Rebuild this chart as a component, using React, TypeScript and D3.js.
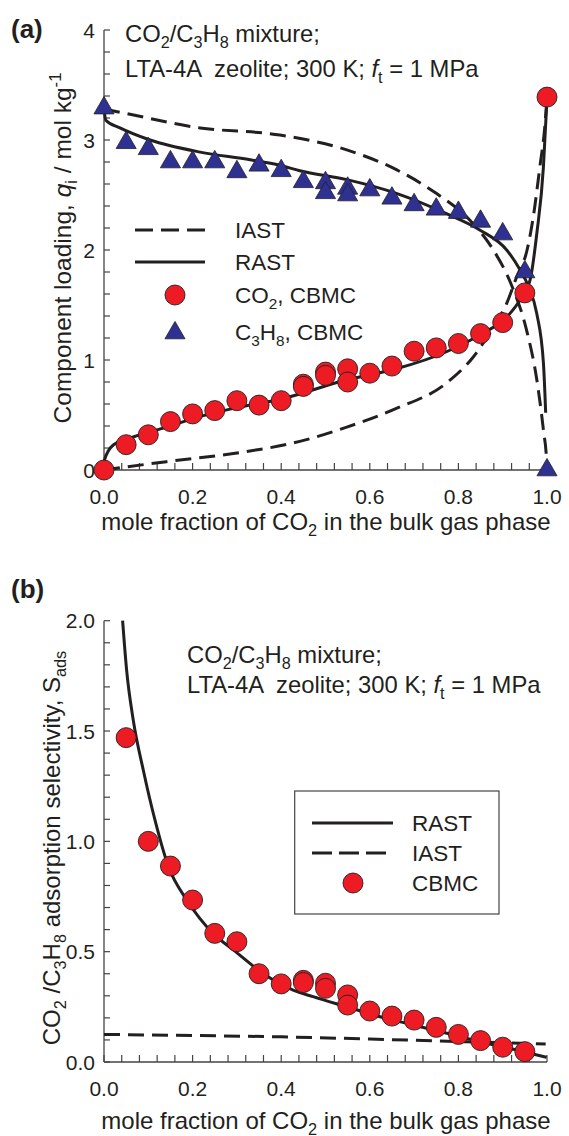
import React from "react";
import * as d3 from "d3";

// ---------- Panel (a) data ----------
const co2CbmcX = [0, 0.05, 0.1, 0.15, 0.2, 0.25, 0.3, 0.35, 0.4, 0.45, 0.45, 0.5, 0.5, 0.55, 0.55, 0.6, 0.65, 0.7, 0.75, 0.8, 0.85, 0.9, 0.95, 1.0];
const co2CbmcY = [0, 0.23, 0.32, 0.44, 0.51, 0.54, 0.63, 0.59, 0.63, 0.78, 0.76, 0.89, 0.86, 0.92, 0.8, 0.88, 0.945, 1.08, 1.11, 1.15, 1.24, 1.34, 1.61, 3.39];

const c3h8CbmcX = [0, 0.05, 0.1, 0.15, 0.2, 0.25, 0.3, 0.35, 0.4, 0.45, 0.5, 0.5, 0.55, 0.55, 0.6, 0.65, 0.7, 0.75, 0.8, 0.85, 0.9, 0.95, 1.0];
const c3h8CbmcY = [3.29, 2.975, 2.92, 2.8, 2.8, 2.8, 2.71, 2.77, 2.72, 2.62, 2.61, 2.52, 2.56, 2.5, 2.545, 2.47, 2.41, 2.37, 2.34, 2.26, 2.145, 1.8, 0];

const rastC3h8X = [0, 0.004, 0.036, 0.104, 0.217, 0.33, 0.397, 0.442, 0.548, 0.66, 0.773, 0.849, 0.909, 0.939, 0.958, 0.977, 0.992, 0.997];
const rastC3h8Y = [3.29, 3.18, 3.11, 3.0, 2.89, 2.82, 2.77, 2.72, 2.64, 2.515, 2.33, 2.18, 2.0, 1.82, 1.67, 1.42, 0.97, 0.52];

const rastCo2X = [0, 0.001, 0.021, 0.066, 0.141, 0.216, 0.292, 0.405, 0.548, 0.66, 0.773, 0.849, 0.909, 0.939, 0.962, 0.977, 0.992, 0.999, 1.0];
const rastCo2Y = [0, 0.09, 0.227, 0.3, 0.39, 0.485, 0.56, 0.65, 0.82, 0.92, 1.075, 1.23, 1.39, 1.545, 1.73, 2.15, 2.76, 3.3, 3.39];

const iastC3h8X = [0, 0.0135, 0.217, 0.397, 0.548, 0.66, 0.75, 0.826, 0.879, 0.92, 0.954, 0.977, 0.992, 0.999, 1.0];
const iastC3h8Y = [3.28, 3.27, 3.11, 3.045, 2.91, 2.73, 2.515, 2.27, 2.0, 1.68, 1.27, 0.82, 0.36, 0.09, 0];

const iastCo2X = [0, 0.141, 0.292, 0.442, 0.548, 0.66, 0.773, 0.834, 0.879, 0.909, 0.931, 0.955, 0.969, 0.984, 0.995, 1.0];
const iastCo2Y = [0, 0.076, 0.15, 0.26, 0.39, 0.56, 0.79, 1.03, 1.3, 1.515, 1.75, 2.0, 2.3, 2.76, 3.12, 3.39];

const yTicksA = [0, 1, 2, 3, 4];
const xTicks = [0, 0.2, 0.4, 0.6, 0.8, 1.0];

// ---------- Panel (b) data ----------
const selCbmcX = [0.05, 0.1, 0.15, 0.2, 0.25, 0.3, 0.35, 0.4, 0.45, 0.45, 0.5, 0.5, 0.55, 0.55, 0.6, 0.65, 0.7, 0.75, 0.8, 0.85, 0.9, 0.95];
const selCbmcY = [1.47, 1.0, 0.888, 0.734, 0.583, 0.545, 0.4, 0.354, 0.37, 0.36, 0.357, 0.334, 0.304, 0.258, 0.231, 0.208, 0.19, 0.157, 0.125, 0.097, 0.067, 0.047];

const selRastX = [0.042, 0.051, 0.066, 0.089, 0.115, 0.145, 0.187, 0.246, 0.292, 0.36, 0.427, 0.472, 0.548, 0.623, 0.698, 0.774, 0.849, 0.924, 0.999];
const selRastY = [2.0, 1.777, 1.55, 1.32, 1.097, 0.888, 0.734, 0.583, 0.508, 0.4, 0.326, 0.296, 0.25, 0.205, 0.168, 0.13, 0.092, 0.058, 0.021];

const selIastX = [0, 0.2, 0.4, 0.6, 0.8, 0.997];
const selIastY = [0.125, 0.12, 0.114, 0.104, 0.093, 0.082];

const yTicksB = [0, 0.5, 1.0, 1.5, 2.0];

// ---------- styles ----------
const FONT = "'Liberation Sans', Arial, Helvetica, sans-serif";
const INK = "#231f20";
const AXIS = "#444";
const RED = "#ed1c24";
const BLUE = "#2e3192";

type Part = { t: string; k?: "sub" | "sup"; i?: boolean };

function Rich(props: { x?: number; y?: number; size: number; parts: Part[]; anchor?: string; transform?: string; weight?: string }) {
  const { size, parts } = props;
  let off = 0;
  const kids = parts.map((p, idx) => {
    const target = p.k === "sub" ? size * 0.26 : p.k === "sup" ? -size * 0.42 : 0;
    const dy = target - off;
    off = target;
    return (
      <tspan key={idx} dy={dy} fontSize={p.k ? size * 0.68 : size} fontStyle={p.i ? "italic" : "normal"}>
        {p.t}
      </tspan>
    );
  });
  return (
    <text x={props.x} y={props.y} transform={props.transform} textAnchor={props.anchor || "start"} fontFamily={FONT} fontSize={size} fill={INK} fontWeight={props.weight || "normal"} style={{ whiteSpace: "pre" }}>
      {kids}
    </text>
  );
}

function zip(xs: number[], ys: number[]): [number, number][] {
  return xs.map((x, i) => [x, ys[i]]);
}

const W = 569;
const H = 1136;

export default function App() {
  const xA = d3.scaleLinear().domain([0, 1]).range([104, 547]);
  const yA = d3.scaleLinear().domain([0, 4]).range([470, 30]);
  const xB = d3.scaleLinear().domain([0, 1]).range([104, 547]);
  const yB = d3.scaleLinear().domain([0, 2]).range([1062, 620.7]);

  const lineA = d3.line<[number, number]>().x((d) => xA(d[0])).y((d) => yA(d[1])).curve(d3.curveMonotoneX);
  const lineB = d3.line<[number, number]>().x((d) => xB(d[0])).y((d) => yB(d[1])).curve(d3.curveMonotoneX);

  const tri = d3.symbol().type(d3.symbolTriangle).size(175)() as string;

  const xMinor = d3.range(0, 1.0001, 0.04);
  const yMinorA = d3.range(0, 4.0001, 0.2);
  const yMinorB = d3.range(0, 2.0001, 0.1);

  const TL = 7;
  const tickFs = 21;
  const dash = "16 8";
  const annFs = 23.8;
  const legFs = 22.5;

  const axes = (
    xs: d3.ScaleLinear<number, number>,
    ys: d3.ScaleLinear<number, number>,
    yMinor: number[],
    yTicks: number[],
    yFmt: (v: number) => string,
    key: string
  ) => {
    const [y0, y1] = ys.range();
    const [x0, x1] = xs.range();
    return (
      <g key={key}>
        <line x1={x0} x2={x0} y1={y0} y2={y1} stroke={AXIS} strokeWidth={1.3} />
        <line x1={x0} x2={x1} y1={y0} y2={y0} stroke={AXIS} strokeWidth={1.3} />
        {xMinor.map((v, i) => (
          <line key={"xm" + i} x1={xs(v)} x2={xs(v)} y1={y0} y2={y0 - TL} stroke={AXIS} strokeWidth={1.2} />
        ))}
        {yMinor.map((v, i) => (
          <line key={"ym" + i} x1={x0} x2={x0 + TL - 1} y1={ys(v)} y2={ys(v)} stroke={AXIS} strokeWidth={1.2} />
        ))}
        {xTicks.map((v, i) => (
          <text key={"xl" + i} x={xs(v)} y={y0 + 34} textAnchor="middle" fontFamily={FONT} fontSize={tickFs} fill={INK}>
            {d3.format(".1f")(v)}
          </text>
        ))}
        {yTicks.map((v, i) => (
          <text key={"yl" + i} x={x0 - 9} y={ys(v) + 7.5} textAnchor="end" fontFamily={FONT} fontSize={tickFs} fill={INK}>
            {yFmt(v)}
          </text>
        ))}
      </g>
    );
  };

  return (
    <svg width={W} height={H} style={{ position: "absolute", left: 0, top: 0, background: "#fff" }}>
      <rect x={0} y={0} width={W} height={H} fill="#fff" />

      {/* ================= Panel (a) ================= */}
      <text x={11} y={38} fontFamily={FONT} fontSize={26} fontWeight="bold" fill={INK}>(a)</text>
      {axes(xA, yA, yMinorA, yTicksA, (v) => d3.format("d")(v), "axA")}

      <path d={lineA(zip(iastC3h8X, iastC3h8Y)) || ""} fill="none" stroke={INK} strokeWidth={3} strokeDasharray={dash} />
      <path d={lineA(zip(iastCo2X, iastCo2Y)) || ""} fill="none" stroke={INK} strokeWidth={3} strokeDasharray={dash} />
      <path d={lineA(zip(rastC3h8X, rastC3h8Y)) || ""} fill="none" stroke={INK} strokeWidth={3} />
      <path d={lineA(zip(rastCo2X, rastCo2Y)) || ""} fill="none" stroke={INK} strokeWidth={3} />

      {c3h8CbmcX.map((x, i) => (
        <path key={"t" + i} d={tri} transform={`translate(${xA(x)},${yA(c3h8CbmcY[i])})`} fill={BLUE} stroke={INK} strokeWidth={0.8} />
      ))}
      {co2CbmcX.map((x, i) => (
        <circle key={"c" + i} cx={xA(x)} cy={yA(co2CbmcY[i])} r={10} fill={RED} stroke={INK} strokeWidth={0.9} />
      ))}

      <Rich x={125} y={42} size={annFs} parts={[{ t: "CO" }, { t: "2", k: "sub" }, { t: "/C" }, { t: "3", k: "sub" }, { t: "H" }, { t: "8", k: "sub" }, { t: " mixture;" }]} />
      <Rich x={125} y={77} size={annFs} parts={[{ t: "LTA-4A  zeolite; 300 K; " }, { t: "f", i: true }, { t: "t", k: "sub" }, { t: " = 1 MPa" }]} />

      {/* legend (a) */}
      <line x1={135} x2={205} y1={230} y2={230} stroke={INK} strokeWidth={3} strokeDasharray="18 8" />
      <Rich x={235} y={238} size={legFs} parts={[{ t: "IAST" }]} />
      <line x1={135} x2={205} y1={262} y2={262} stroke={INK} strokeWidth={3} />
      <Rich x={235} y={270} size={legFs} parts={[{ t: "RAST" }]} />
      <circle cx={175} cy={295} r={10} fill={RED} stroke={INK} strokeWidth={0.9} />
      <Rich x={235} y={303} size={legFs} parts={[{ t: "CO" }, { t: "2", k: "sub" }, { t: ", CBMC" }]} />
      <path d={tri} transform="translate(175,333)" fill={BLUE} stroke={INK} strokeWidth={0.8} />
      <Rich x={235} y={340} size={legFs} parts={[{ t: "C" }, { t: "3", k: "sub" }, { t: "H" }, { t: "8", k: "sub" }, { t: ", CBMC" }]} />

      <Rich transform="translate(71,248) rotate(-90)" anchor="middle" size={24.5} parts={[{ t: "Component loading, " }, { t: "q", i: true }, { t: "i", k: "sub" }, { t: " / mol kg" }, { t: "-1", k: "sup" }]} />
      <Rich x={326} y={530} anchor="middle" size={24} parts={[{ t: "mole fraction of CO" }, { t: "2", k: "sub" }, { t: " in the bulk gas phase" }]} />

      {/* ================= Panel (b) ================= */}
      <text x={11} y={598} fontFamily={FONT} fontSize={26} fontWeight="bold" fill={INK}>(b)</text>
      {axes(xB, yB, yMinorB, yTicksB, (v) => d3.format(".1f")(v), "axB")}

      <path d={lineB(zip(selIastX, selIastY)) || ""} fill="none" stroke={INK} strokeWidth={3} strokeDasharray={dash} />
      <path d={lineB(zip(selRastX, selRastY)) || ""} fill="none" stroke={INK} strokeWidth={3} />
      {selCbmcX.map((x, i) => (
        <circle key={"s" + i} cx={xB(x)} cy={yB(selCbmcY[i])} r={10} fill={RED} stroke={INK} strokeWidth={0.9} />
      ))}

      <Rich x={187} y={663} size={annFs} parts={[{ t: "CO" }, { t: "2", k: "sub" }, { t: "/C" }, { t: "3", k: "sub" }, { t: "H" }, { t: "8", k: "sub" }, { t: " mixture;" }]} />
      <Rich x={187} y={693} size={annFs} parts={[{ t: "LTA-4A  zeolite; 300 K; " }, { t: "f", i: true }, { t: "t", k: "sub" }, { t: " = 1 MPa" }]} />

      {/* legend (b) */}
      <rect x={294.7} y={791} width={204.3} height={123} fill="#fff" stroke={AXIS} strokeWidth={1.2} />
      <line x1={312} x2={393} y1={823} y2={823} stroke={INK} strokeWidth={3} />
      <Rich x={412} y={831} size={legFs} parts={[{ t: "RAST" }]} />
      <line x1={312} x2={386} y1={853} y2={853} stroke={INK} strokeWidth={3} strokeDasharray="20 7" />
      <Rich x={412} y={861} size={legFs} parts={[{ t: "IAST" }]} />
      <circle cx={353} cy={883} r={10} fill={RED} stroke={INK} strokeWidth={0.9} />
      <Rich x={412} y={891} size={legFs} parts={[{ t: "CBMC" }]} />

      <Rich transform="translate(60,848) rotate(-90)" anchor="middle" size={24} parts={[{ t: "CO" }, { t: "2", k: "sub" }, { t: " /C" }, { t: "3", k: "sub" }, { t: "H" }, { t: "8", k: "sub" }, { t: " adsorption selectivity, S" }, { t: "ads", k: "sub" }]} />
      <Rich x={326} y={1129} anchor="middle" size={24} parts={[{ t: "mole fraction of CO" }, { t: "2", k: "sub" }, { t: " in the bulk gas phase" }]} />
    </svg>
  );
}
